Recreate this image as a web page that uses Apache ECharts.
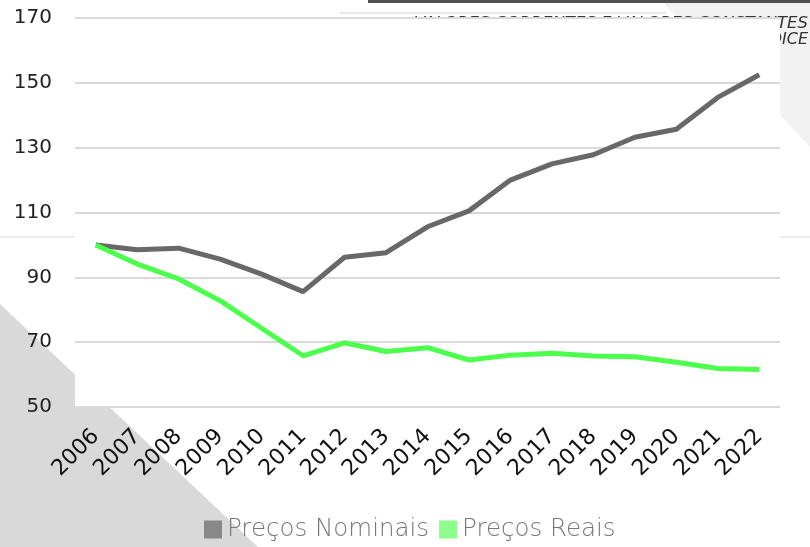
<!DOCTYPE html>
<html>
<head>
<meta charset="utf-8">
<script src="https://cdn.jsdelivr.net/npm/echarts@6/dist/echarts.min.js"></script>
<style>
  html, body { margin: 0; padding: 0; background: #fff; }
  #chart { width: 810px; height: 547px; }
</style>
</head>
<body>
<div id="chart"></div>
<script>
const years = ['2006', '2007', '2008', '2009', '2010', '2011', '2012', '2013', '2014',
  '2015', '2016', '2017', '2018', '2019', '2020', '2021', '2022']
const nominais = [100, 98.5, 99, 95.6, 91, 85.6, 96.2, 97.6, 105.6, 110.5, 120, 125, 127.8, 133.2, 135.7, 145.5, 152.5]
const reais = [100, 94.1, 89.5, 82.8, 74.3, 65.8, 69.8, 67.1, 68.3, 64.5, 66, 66.6, 65.7, 65.5, 63.8, 61.9, 61.6]
const yTicks = { min: 50, max: 170, step: 20 }

const font = 'DejaVu Sans'
const chart = echarts.init(document.getElementById('chart'))

chart.setOption({
  backgroundColor: '#fff',
  animation: false,
  textStyle: { fontFamily: font },
  // leftovers of the slide around the plot
  graphic: [
    { type: 'polygon', z: -5, shape: { points: [[0, 304], [258, 547], [0, 547]] }, style: { fill: '#d9d9d9' } },
    { type: 'rect', z: -5, shape: { x: 0, y: 236, width: 810, height: 2 }, style: { fill: '#ececec' } },
    { type: 'polygon', z: -5, shape: { points: [[664, 3], [810, 3], [810, 147], [780, 115], [780, 18], [678, 18]] }, style: { fill: '#f2f2f2' } },
    { type: 'rect', z: -5, shape: { x: 340, y: 12, width: 326, height: 2 }, style: { fill: '#e8e8e8' } },
    { type: 'rect', z: -5, shape: { x: 368, y: 0, width: 442, height: 3 }, style: { fill: '#4f4f4f' } },
    {
      type: 'text', z: -4, x: 808, y: 15,
      style: { text: 'VALORES CORRENTES E VALORES CONSTANTES', align: 'right', verticalAlign: 'top',
        font: 'italic 16.5px "DejaVu Sans"', fill: '#333' },
    },
    {
      type: 'text', z: -4, x: 808, y: 32,
      style: { text: 'NÚMERO ÍNDICE', align: 'right', verticalAlign: 'top',
        font: 'italic 16px "DejaVu Sans"', fill: '#333' },
    },
  ],
  grid: {
    left: 75, right: 30, top: 18, bottom: 140,
    show: true, backgroundColor: '#fff', borderWidth: 0,
    outerBoundsMode: 'none',
  },
  legend: {
    left: 204, top: 517, padding: 0,
    itemWidth: 18, itemHeight: 18, itemGap: 10,
    icon: 'rect',
    textStyle: { color: '#777', fontSize: 24.5, fontWeight: 200, fontFamily: font },
    data: [
      { name: 'Preços Nominais', itemStyle: { color: '#888888' } },
      { name: 'Preços Reais', itemStyle: { color: '#8dff8d' } },
    ],
  },
  xAxis: {
    type: 'category',
    data: years,
    boundaryGap: true,
    axisLine: { show: false },
    axisTick: { show: false },
    axisLabel: { rotate: 45, color: '#111', fontSize: 22, margin: 26, interval: 0 },
  },
  yAxis: {
    type: 'value',
    min: yTicks.min, max: yTicks.max, interval: yTicks.step,
    axisLine: { show: false },
    axisTick: { show: false },
    axisLabel: { color: '#222', fontSize: 20, margin: 23 },
    splitLine: { lineStyle: { color: '#d9d9d9', width: 2 } },
  },
  series: [
    {
      name: 'Preços Nominais',
      type: 'line',
      data: nominais,
      symbol: 'none',
      lineStyle: { color: '#686868', width: 5 },
      itemStyle: { color: '#888888' },
    },
    {
      name: 'Preços Reais',
      type: 'line',
      data: reais,
      symbol: 'none',
      lineStyle: { color: '#4cff4c', width: 5 },
      itemStyle: { color: '#8dff8d' },
    },
  ],
})
</script>
</body>
</html>
